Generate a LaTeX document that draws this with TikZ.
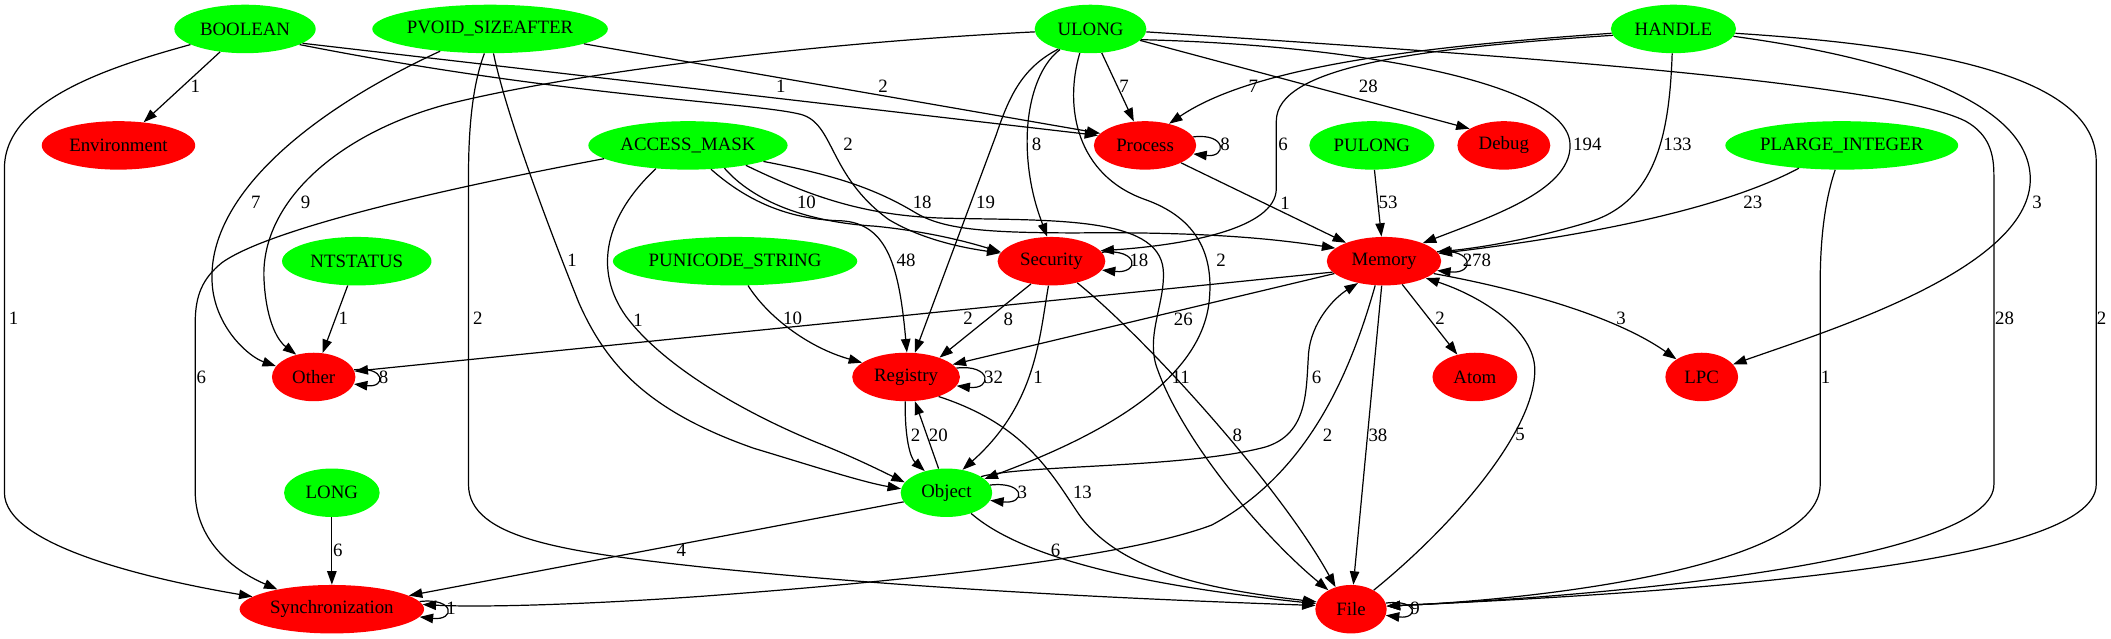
\documentclass[tikz,border=0pt]{standalone}
\usepackage{fontspec}
\setmainfont{Liberation Serif}
\usetikzlibrary{arrows.meta,shapes.geometric}
\definecolor{tgreen}{RGB}{0,255,0}
\definecolor{tred}{RGB}{255,0,0}
\def\selfloop(#1)(#2:#3){\draw[conn] (#1.#2) .. controls +(#3, -3) and +(#3, 3) .. (#1.-#2);}

\begin{document}
\begin{tikzpicture}[x=1pt, y=-1pt,
	tnode/.style={ellipse, fill=tgreen, inner sep=0pt, minimum height=36pt, font=\fontsize{14}{16}\selectfont},
	rnode/.style={ellipse, fill=tred, inner sep=0pt, minimum height=36pt, font=\fontsize{14}{16}\selectfont},
	conn/.style={line width=0.9pt, -{Triangle[length=10pt, width=7pt]}},
	lbl/.style={inner sep=0pt, font=\fontsize{14}{16}\selectfont}]
		%%%%% START %%%%%
		
		\fill[white] (0, 0) rectangle (1568, 474.6);
		\useasboundingbox (0, 0) rectangle (1568, 474.6);
		
		\node[tnode, minimum width=105pt] (boolean) at (182, 21.5) {BOOLEAN};
		\node[tnode, minimum width=175pt] (pvoid) at (364, 21.5) {PVOID\_SIZEAFTER};
		\node[tnode, minimum width=83pt] (ulong) at (810, 21.5) {ULONG};
		\node[tnode, minimum width=93pt] (handle) at (1243, 21.5) {HANDLE};
		
		\node[rnode, minimum width=114pt] (env) at (88, 108) {Environment};
		\node[tnode, minimum width=148pt] (mask) at (511, 108) {ACCESS\_MASK};
		\node[rnode, minimum width=76pt] (process) at (850.5, 108) {Process};
		\node[tnode, minimum width=93pt] (pulong) at (1019, 108) {PULONG};
		\node[rnode, minimum width=69pt] (debug) at (1117, 108) {Debug};
		\node[tnode, minimum width=173pt] (plarge) at (1368, 108) {PLARGE\_INTEGER};
		
		\node[tnode, minimum width=111pt] (ntstatus) at (265, 194) {NTSTATUS};
		\node[tnode, minimum width=180pt] (punicode) at (546, 194) {PUNICODE\_STRING};
		\node[rnode, minimum width=80pt] (security) at (781, 194) {Security};
		\node[rnode, minimum width=85pt] (memory) at (1028, 194) {Memory};
		
		\node[rnode, minimum width=62pt] (other) at (233, 280) {Other};
		\node[rnode, minimum width=80pt] (registry) at (673, 280) {Registry};
		\node[rnode, minimum width=63pt] (atom) at (1095.5, 280) {Atom};
		\node[rnode, minimum width=54pt] (lpc) at (1264, 280) {LPC};
		
		\node[tnode, minimum width=71pt] (long) at (246.5, 366) {LONG};
		\node[tnode, minimum width=68pt] (object) at (703, 366) {Object};
		
		\node[rnode, minimum width=137pt] (sync) at (246.5, 452.5) {Synchronization};
		\node[rnode, minimum width=53pt] (file) at (1003.5, 452.5) {File};
		
		% BOOLEAN
		\draw[conn] (boolean) -- (env);
		\node[lbl] (l-b-env) at (145, 64.4) {1};
		\draw[conn] (boolean.-164) .. controls (80, 50) and (3.3, 75) .. (3.3, 125) -- (3.3, 366) .. controls (3.3, 405) and (110, 430) .. (sync.171);
		\node[lbl] (l-b-sync) at (10, 236.4) {1};
		\draw[conn] (boolean.-14) -- (process.168);
		\node[lbl] (l-b-proc) at (580, 64.4) {1};
		\draw[conn] (boolean.-16) .. controls (420, 72) and (560, 76) .. (595, 85) .. controls (620, 92) and (615, 130) .. (660, 163) .. controls (685, 178) and (715, 184) .. (security.171);
		\node[lbl] (l-b-sec) at (630, 107) {2};
		
		% PVOID_SIZEAFTER
		\draw[conn] (pvoid.-9) -- (process.165);
		\node[lbl] (l-p-proc) at (656, 64.4) {2};
		\draw[conn] (pvoid.-156) .. controls (225, 85) and (150, 150) .. (158, 215) .. controls (162, 245) and (185, 265) .. (other.164);
		\node[lbl] (l-p-oth) at (190, 150) {7};
		\draw[conn] (pvoid.-103) .. controls (352, 60) and (348, 90) .. (348, 130) -- (348, 360) .. controls (348, 400) and (420, 410) .. (520, 421) .. controls (700, 440) and (900, 447) .. (file.174);
		\node[lbl] (l-p-file) at (355, 236.4) {2};
		\draw[conn] (pvoid.-82) .. controls (375, 80) and (400, 150) .. (430, 225) .. controls (450, 270) and (480, 305) .. (560, 333) .. controls (600, 345) and (640, 358) .. (object.175);
		\node[lbl] (l-p-obj) at (425, 193) {1};
		
		% ULONG
		\draw[conn] (ulong.-177) .. controls (600, 32) and (420, 55) .. (330, 78) .. controls (250, 100) and (195, 150) .. (196, 205) .. controls (197, 235) and (205, 252) .. (other.128);
		\node[lbl] (l-u-oth) at (227, 150) {9};
		\draw[conn] (ulong) -- (process);
		\node[lbl] (l-u-proc) at (835, 64.4) {7};
		\draw[conn] (ulong.-146) .. controls (770, 50) and (762, 80) .. (763, 110) .. controls (764, 140) and (772, 160) .. (security.100);
		\node[lbl] (l-u-sec) at (770, 107) {8};
		\draw[conn] (ulong.-148) .. controls (760, 50) and (750, 70) .. (740, 100) -- (registry.70);
		\node[lbl] (l-u-reg) at (732, 150) {19};
		\draw[conn] (ulong.-114) .. controls (790, 80) and (800, 130) .. (850, 148) .. controls (890, 162) and (902, 190) .. (898, 225) .. controls (890, 290) and (800, 330) .. (object.20);
		\node[lbl] (l-u-obj) at (907, 193) {2};
		\draw[conn] (ulong.-12) .. controls (1000, 33) and (1160, 60) .. (1166, 105) .. controls (1170, 140) and (1110, 160) .. (memory.25);
		\node[lbl] (l-u-mem) at (1179, 107) {194};
		\draw[conn] (ulong.-13) -- (debug.154);
		\node[lbl] (l-u-dbg) at (1016.4, 64.4) {28};
		\draw[conn] (ulong.-3) .. controls (1100, 40) and (1400, 60) .. (1460, 90) .. controls (1478, 100) and (1481, 115) .. (1481, 130) -- (1481, 360) .. controls (1481, 410) and (1250, 440) .. (file.5);
		\node[lbl] (l-u-file) at (1489, 236.4) {28};
		
		% HANDLE
		\draw[conn] (handle.-176) .. controls (1050, 35) and (930, 50) .. (process.42);
		\node[lbl] (l-h-proc) at (931, 64.4) {7};
		\draw[conn] (handle.-174) .. controls (1050, 36) and (948, 50) .. (948, 90) -- (948, 140) .. controls (948, 170) and (880, 182) .. (security.12);
		\node[lbl] (l-h-sec) at (953, 107) {6};
		\draw[conn] (handle.-93) .. controls (1240, 100) and (1230, 150) .. (1180, 165) .. controls (1130, 180) and (1090, 185) .. (memory.10);
		\node[lbl] (l-h-mem) at (1246, 107) {133};
		\draw[conn] (handle.-7) .. controls (1420, 45) and (1510, 80) .. (1508, 135) .. controls (1505, 200) and (1360, 245) .. (lpc.22);
		\node[lbl] (l-h-lpc) at (1513, 150) {3};
		\draw[conn] (handle.-4) .. controls (1450, 35) and (1557, 60) .. (1557, 120) -- (1557, 360) .. controls (1557, 420) and (1250, 440) .. (file.5);
		\node[lbl] (l-h-file) at (1561, 236.4) {2};
		
		% ACCESS_MASK
		\draw[conn] (mask.-144) .. controls (450, 160) and (440, 200) .. (465, 235) .. controls (495, 275) and (560, 310) .. (610, 330) .. controls (635, 340) and (655, 350) .. (object.166);
		\node[lbl] (l-m-obj) at (474, 237.7) {1};
		\draw[conn] (mask.-171) .. controls (330, 140) and (200, 170) .. (165, 195) .. controls (150, 207) and (145, 220) .. (145, 240) -- (145, 365) .. controls (145, 395) and (165, 420) .. (sync.160);
		\node[lbl] (l-m-sync) at (149.5, 280) {6};
		\draw[conn] (mask.-32) .. controls (560, 150) and (600, 165) .. (650, 168) .. controls (690, 172) and (720, 180) .. (security.170);
		\node[lbl] (l-m-sec) at (599, 150) {10};
		\draw[conn] (mask.-46) .. controls (550, 145) and (580, 163) .. (625, 164) .. controls (660, 166) and (668, 200) .. (registry.88);
		\node[lbl] (l-m-reg) at (673, 193) {48};
		\draw[conn] (mask.-12) .. controls (620, 130) and (650, 140) .. (680, 158) .. controls (700, 170) and (730, 173) .. (800, 173) .. controls (900, 172) and (950, 178) .. (memory.165);
		\node[lbl] (l-m-mem) at (685, 150) {18};
		\draw[conn] (mask.-19) .. controls (600, 145) and (640, 160) .. (700, 162) .. controls (780, 164) and (860, 160) .. (864, 200) .. controls (866, 225) and (850, 250) .. (860, 275) .. controls (880, 330) and (940, 400) .. (file.140);
		\node[lbl] (l-m-file) at (877, 280) {11};
		
		% other green sources
		\draw[conn] (ntstatus) -- (other);
		\node[lbl] (l-n-oth) at (255, 236.4) {1};
		\draw[conn] (punicode.-62) .. controls (570, 235) and (600, 258) .. (registry.162);
		\node[lbl] (l-pu-reg) at (588.7, 236.4) {10};
		\draw[conn] (pulong) -- (memory);
		\node[lbl] (l-pl-mem) at (1031, 150) {53};
		\draw[conn] (plarge.-152) .. controls (1280, 155) and (1180, 175) .. (memory.8);
		\node[lbl] (l-pi-mem) at (1302, 150) {23};
		\draw[conn] (plarge.-105) .. controls (1355, 150) and (1352, 180) .. (1352, 210) -- (1352, 360) .. controls (1352, 420) and (1150, 445) .. (file.5);
		\node[lbl] (l-pi-file) at (1356, 280) {1};
		\draw[conn] (long) -- (sync);
		\node[lbl] (l-l-sync) at (251, 408.5) {6};
		
		% Process, Security
		\draw[conn] (process) -- (memory);
		\node[lbl] (l-pr-mem) at (954.6, 151) {1};
		\draw[conn] (security.-132) -- (registry.30);
		\node[lbl] (l-s-reg) at (749, 237) {8};
		\draw[conn] (security.-97) .. controls (772, 250) and (770, 300) .. (object.55);
		\node[lbl] (l-s-obj) at (771, 280) {1};
		\draw[conn] (security.-40) .. controls (850, 250) and (950, 360) .. (file.125);
		\node[lbl] (l-s-file) at (919, 323) {8};
		
		% Memory
		\draw[conn] (memory.-168) -- (other.8);
		\node[lbl] (l-me-oth) at (719, 236.4) {2};
		\draw[conn] (memory.-166) -- (registry.15);
		\node[lbl] (l-me-reg) at (879, 237.5) {26};
		\draw[conn] (memory) -- (atom);
		\node[lbl] (l-me-atom) at (1069.7, 236.5) {2};
		\draw[conn] (memory.-14) .. controls (1130, 215) and (1200, 235) .. (lpc.145);
		\node[lbl] (l-me-lpc) at (1204, 236.4) {3};
		\draw[conn] (memory.-110) .. controls (1005, 270) and (975, 350) .. (900, 390) .. controls (820, 420) and (600, 437) .. (520, 443) .. controls (420, 450) and (350, 451) .. (sync.3);
		\node[lbl] (l-me-sync) at (986, 323) {2};
		\draw[conn] (memory) -- (file);
		\node[lbl] (l-me-file) at (1023.5, 323) {38};
		
		% Registry, Object, File
		\draw[conn] (registry.-92) .. controls (672, 325) and (676, 340) .. (object.135);
		\node[lbl] (l-r-obj) at (680, 323) {2};
		\draw[conn] (registry.-31) .. controls (760, 315) and (780, 350) .. (800, 380) .. controls (830, 425) and (900, 438) .. (file.168);
		\node[lbl] (l-r-file) at (804, 366) {13};
		\draw[conn] (object.108) -- (registry.-70);
		\node[lbl] (l-o-reg) at (697, 323) {20};
		\draw[conn] (object.25) .. controls (760, 345) and (880, 348) .. (940, 332) .. controls (972, 322) and (970, 290) .. (972, 262) .. controls (974, 240) and (990, 222) .. (memory.-140);
		\node[lbl] (l-o-mem) at (978, 280) {6};
		\draw[conn] (object.-40) .. controls (760, 415) and (850, 435) .. (file.171);
		\node[lbl] (l-o-file) at (784, 408.5) {6};
		\draw[conn] (object.-168) -- (sync.10);
		\node[lbl] (l-o-sync) at (506, 408.5) {4};
		\draw[conn] (file.40) .. controls (1080, 390) and (1140, 320) .. (1140, 275) .. controls (1140, 245) and (1100, 220) .. (memory.-22);
		\node[lbl] (l-f-mem) at (1129, 323) {5};
		
		% loops
		\selfloop(process)(10:25)
		\node[lbl] (l-proc) at (910, 107) {8};
		\selfloop(security)(10:28)
		\node[lbl] (l-sec) at (846, 193) {18};
		\selfloop(memory)(10:28)
		\node[lbl] (l-mem) at (1097, 193) {278};
		\selfloop(other)(10:24)
		\node[lbl] (l-oth) at (285, 280) {8};
		\selfloop(registry)(10:26.5)
		\node[lbl] (l-reg) at (738, 280) {32};
		\selfloop(object)(10:26.5)
		\node[lbl] (l-obj) at (759.4, 366) {3};
		\selfloop(sync)(5:26.5)
		\node[lbl] (l-sync) at (335, 452) {1};
		\selfloop(file)(10:24.5)
		\node[lbl] (l-file) at (1051, 452) {9};
		
		%%%%% END %%%%%
\end{tikzpicture}
\end{document}
